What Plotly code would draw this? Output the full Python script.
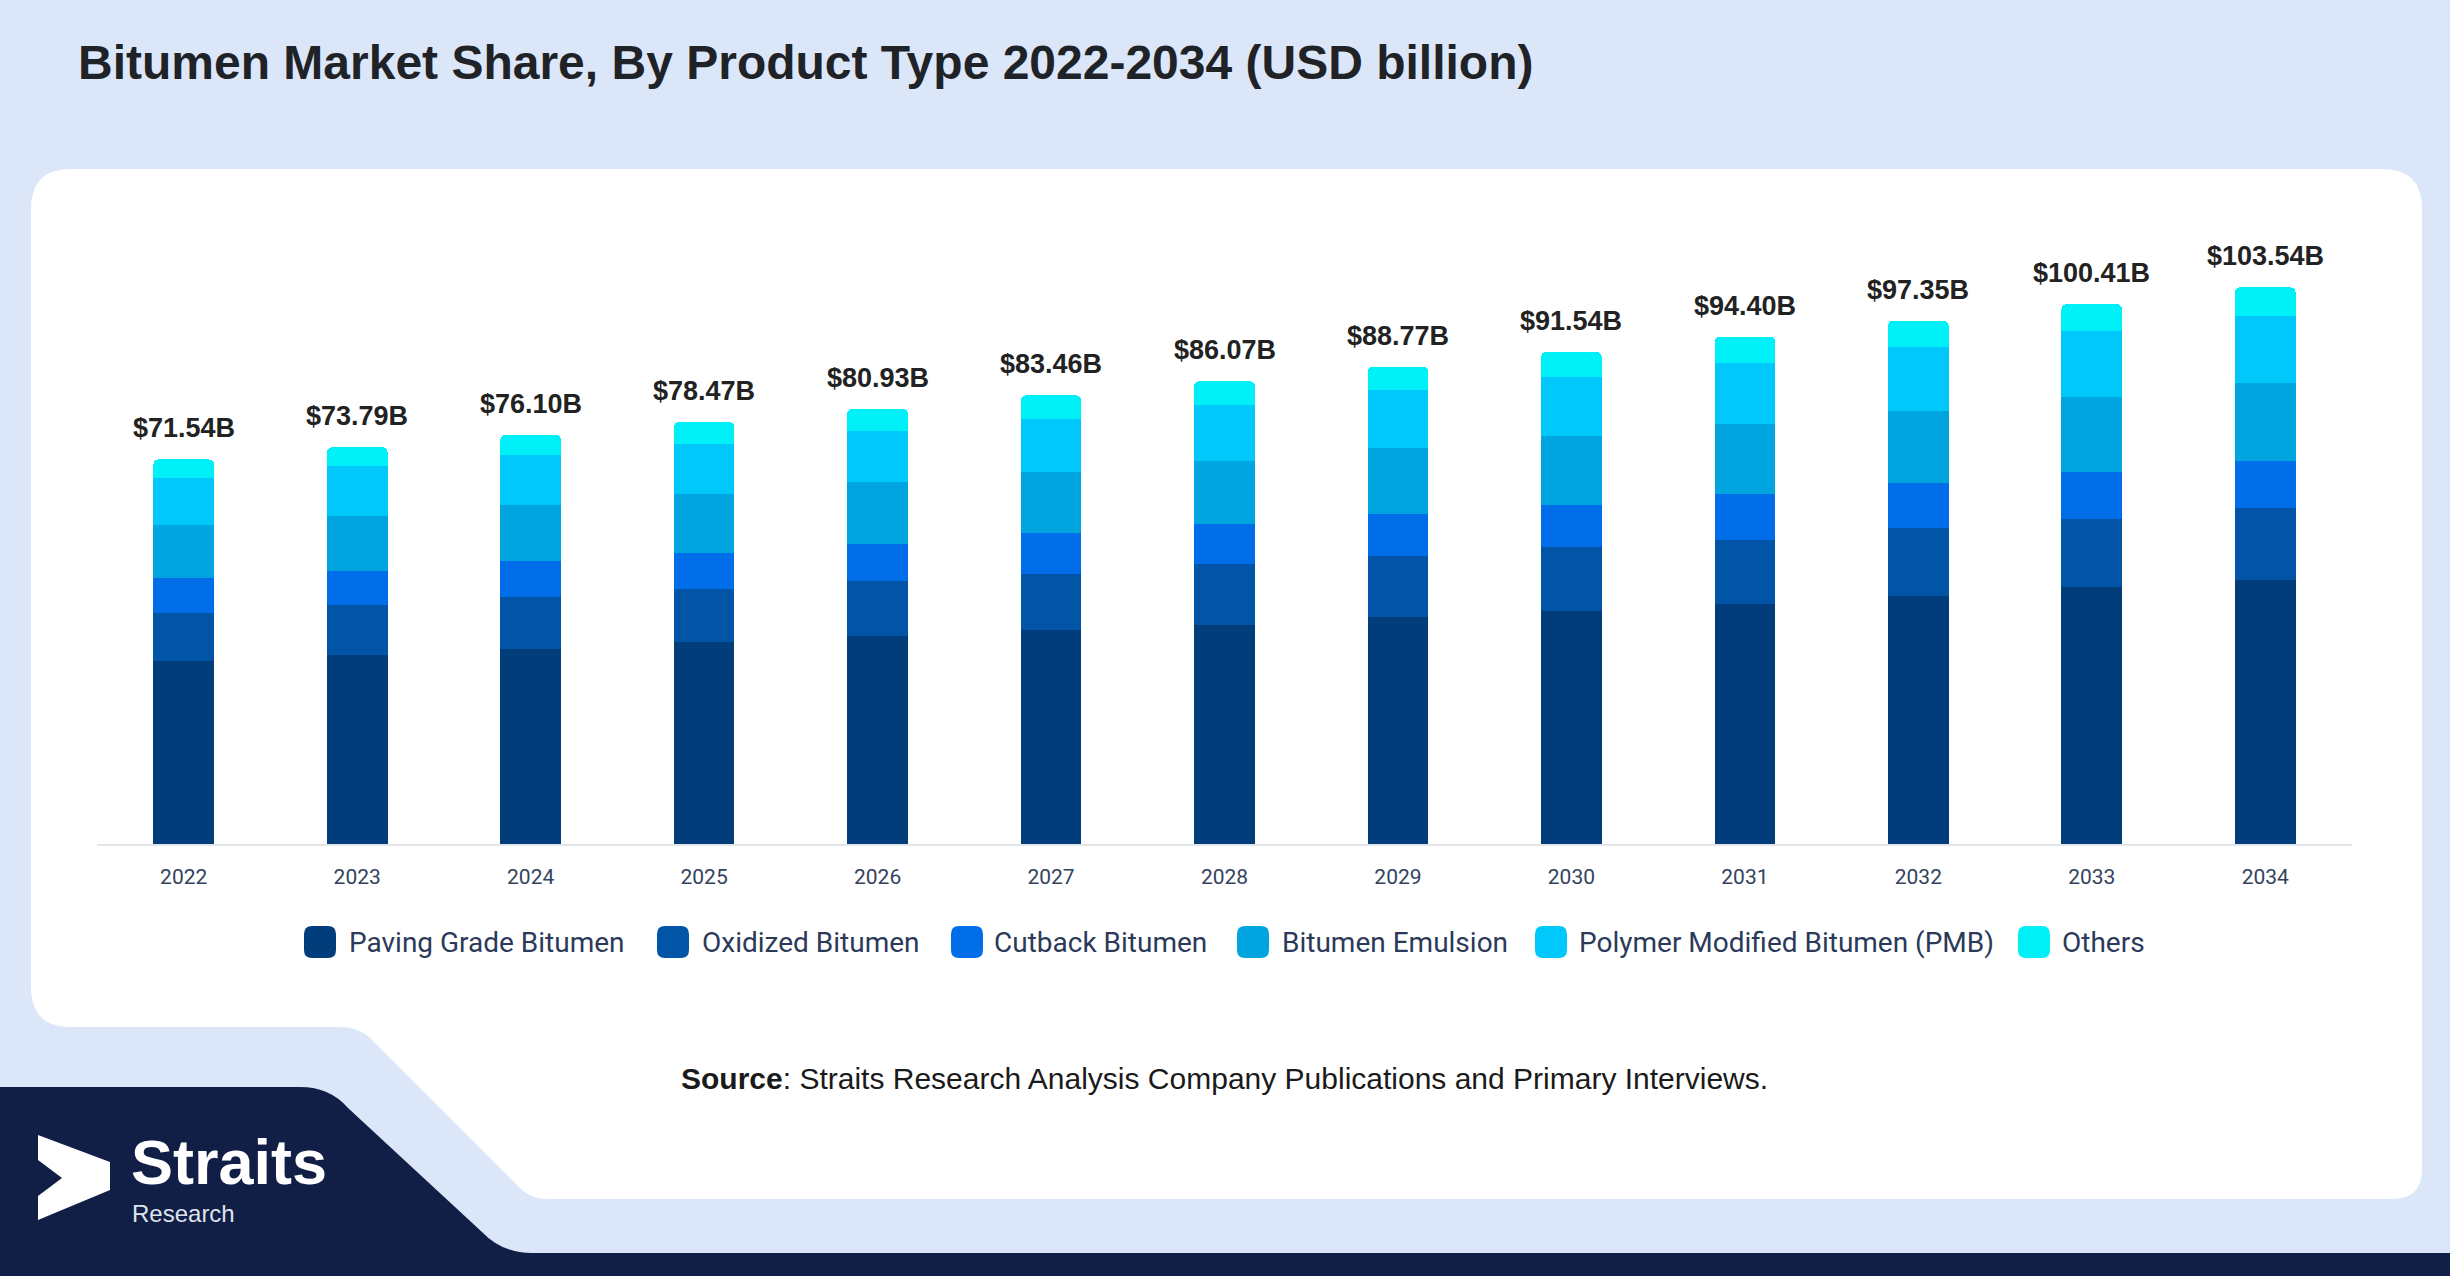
import plotly.graph_objects as go

# ---------------- data ----------------
years = ["2022", "2023", "2024", "2025", "2026", "2027", "2028",
         "2029", "2030", "2031", "2032", "2033", "2034"]
totals = [71.54, 73.79, 76.10, 78.47, 80.93, 83.46, 86.07,
          88.77, 91.54, 94.40, 97.35, 100.41, 103.54]
paving = [34.04, 35.15, 36.31, 37.49, 38.72, 39.84, 40.71,
          42.20, 43.30, 44.73, 46.20, 47.73, 49.15]
oxidized = [9.00, 9.30, 9.59, 9.88, 10.19, 10.47, 11.34,
            11.35, 11.91, 11.91, 12.50, 12.81, 13.38]
cutback = [6.40, 6.39, 6.68, 6.68, 6.99, 7.56, 7.56,
           7.86, 7.85, 8.42, 8.43, 8.73, 8.72]
emulsion = [9.90, 10.17, 10.46, 11.04, 11.35, 11.34, 11.63,
            12.22, 12.79, 13.07, 13.37, 13.97, 14.54]
pmb = [8.70, 9.30, 9.29, 9.30, 9.61, 9.89, 10.47,
       10.77, 11.04, 11.33, 11.91, 12.22, 12.51]
others = [3.50, 3.49, 3.78, 4.07, 4.08, 4.36, 4.36,
          4.37, 4.65, 4.94, 4.94, 4.95, 5.24]
value_labels = ["$71.54B", "$73.79B", "$76.10B", "$78.47B", "$80.93B", "$83.46B",
                "$86.07B", "$88.77B", "$91.54B", "$94.40B", "$97.35B", "$100.41B",
                "$103.54B"]

series_names = ["Paving Grade Bitumen", "Oxidized Bitumen", "Cutback Bitumen",
                "Bitumen Emulsion", "Polymer Modified Bitumen (PMB)", "Others"]
series_values = [paving, oxidized, cutback, emulsion, pmb, others]
series_colors = ["#023d7b", "#0254a6", "#006ee8", "#00a5e0", "#00c8fb", "#00f0f8"]

title_text = "Bitumen Market Share, By Product Type 2022-2034 (USD billion)"

# ---------------- geometry helpers (pixels -> paper) ----------------
W, H = 2450, 1276


def X(px):
    return px / W


def Y(py):
    return 1 - py / H


def path(cmds):
    out = []
    for c, pts in cmds:
        coords = []
        for i in range(0, len(pts), 2):
            coords.append(f"{X(pts[i]):.5f},{Y(pts[i+1]):.5f}")
        out.append(c + " " + " ".join(coords) if coords else c)
    return " ".join(out)


def rrect(x0, y0, x1, y1, r):
    return path([
        ("M", [x0 + r, y0]), ("L", [x1 - r, y0]), ("Q", [x1, y0, x1, y0 + r]),
        ("L", [x1, y1 - r]), ("Q", [x1, y1, x1 - r, y1]), ("L", [x0 + r, y1]),
        ("Q", [x0, y1, x0, y1 - r]), ("L", [x0, y0 + r]), ("Q", [x0, y0, x0 + r, y0]),
        ("Z", [])])


PAGE_BG = "#dbe7f8"
NAVY = "#111e45"

fig = go.Figure()
for name, vals, col in zip(series_names, series_values, series_colors):
    fig.add_trace(go.Bar(x=years, y=vals, name=name, marker_color=col,
                         marker_line_width=0, showlegend=False,
                         hovertemplate="%{x}: %{y:.2f}B<extra>" + name + "</extra>"))

shapes = []
# white card with lower extension
card = path([
    ("M", [31, 209]), ("Q", [31, 169, 71, 169]), ("L", [2382, 169]),
    ("Q", [2422, 169, 2422, 209]), ("L", [2422, 1169]), ("Q", [2422, 1199, 2392, 1199]),
    ("L", [548, 1199]), ("Q", [530, 1199, 518, 1186]), ("L", [374, 1042]),
    ("Q", [361, 1027, 340, 1027]), ("L", [71, 1027]), ("Q", [31, 1027, 31, 987]),
    ("Z", [])])
shapes.append(dict(type="path", path=card, xref="paper", yref="paper",
                   fillcolor="white", line=dict(width=0), layer="below"))
# navy footer
navy = path([
    ("M", [0, 1087]), ("L", [300, 1087]), ("Q", [330, 1087, 348, 1108]),
    ("L", [482, 1232]), ("Q", [502, 1253, 532, 1253]), ("L", [2450, 1253]),
    ("L", [2450, 1276]), ("L", [0, 1276]), ("Z", [])])
shapes.append(dict(type="path", path=navy, xref="paper", yref="paper",
                   fillcolor=NAVY, line=dict(width=0), layer="below"))
# logo chevron
chev = path([
    ("M", [38, 1135]), ("L", [110, 1162]), ("L", [110, 1190]), ("L", [38, 1220]),
    ("L", [38, 1196]), ("L", [62, 1178]), ("L", [38, 1160]), ("Z", [])])
shapes.append(dict(type="path", path=chev, xref="paper", yref="paper",
                   fillcolor="white", line=dict(width=0), layer="above"))

annotations = []
# value labels above bars (category axis: annotation x is the category index)
for i, (tot, lab) in enumerate(zip(totals, value_labels)):
    annotations.append(dict(x=i, y=tot, xref="x", yref="y", text=lab,
                            showarrow=False, yanchor="bottom", yshift=14,
                            font=dict(family="Liberation Sans", size=27,
                                      color="#222222", weight="bold")))

# custom legend
legend_marker_left = [304, 657, 951, 1237, 1535, 2018]
legend_text_left = [347, 700, 992, 1280, 1577, 2060]
LEG_Y = 942
for name, col, mx, tx in zip(series_names, series_colors, legend_marker_left, legend_text_left):
    shapes.append(dict(type="path", path=rrect(mx, LEG_Y - 16, mx + 32, LEG_Y + 16, 8),
                       xref="paper", yref="paper", fillcolor=col, line=dict(width=0)))
    annotations.append(dict(x=X(tx), y=Y(LEG_Y), xref="paper", yref="paper",
                            text=name, showarrow=False, xanchor="left", yanchor="middle",
                            font=dict(family="Roboto", size=28, color="#2c3a5a")))

# source
annotations.append(dict(x=X(1224), y=Y(1078), xref="paper", yref="paper",
                        text="<b>Source</b>: Straits Research Analysis Company Publications and Primary Interviews.",
                        showarrow=False, xanchor="center", yanchor="middle",
                        font=dict(family="Liberation Sans", size=30, color="#1a1a1a")))
# logo text
annotations.append(dict(x=X(129), y=Y(1162), xref="paper", yref="paper",
                        text="<b>Straits</b>", showarrow=False, xanchor="left", yanchor="middle",
                        font=dict(family="Liberation Sans", size=63, color="white")))
annotations.append(dict(x=X(130), y=Y(1213), xref="paper", yref="paper",
                        text="Research", showarrow=False, xanchor="left", yanchor="middle",
                        font=dict(family="Liberation Sans", size=24, color="#dfe3ec")))

fig.update_layout(
    width=W, height=H,
    margin=dict(l=0, r=0, t=0, b=0, autoexpand=False),
    paper_bgcolor=PAGE_BG,
    plot_bgcolor="rgba(0,0,0,0)",
    barmode="stack",
    bargap=0.65,
    barcornerradius=5,
    showlegend=False,
    title=dict(text="<b>" + title_text + "</b>", x=X(78), xanchor="left",
               y=Y(62), yanchor="middle",
               font=dict(family="Liberation Sans", size=48, color="#1f2328")),
    xaxis=dict(domain=[X(97), X(2352)], type="category", range=[-0.5, 12.5],
               showline=True, linecolor="#e2e5ea", linewidth=2,
               showgrid=False, zeroline=False, ticks="", automargin=False,
               ticklabelstandoff=13,
               tickfont=dict(family="Roboto", size=21, color="#34425e")),
    yaxis=dict(domain=[Y(844), Y(200)], range=[0, 119.8], automargin=False,
               showgrid=False, zeroline=False, showticklabels=False, showline=False),
    shapes=shapes,
    annotations=annotations,
)

fig.write_html("out.html", config={"displayModeBar": False},
               post_script="document.body.style.margin='0';document.body.style.overflow='hidden';")
